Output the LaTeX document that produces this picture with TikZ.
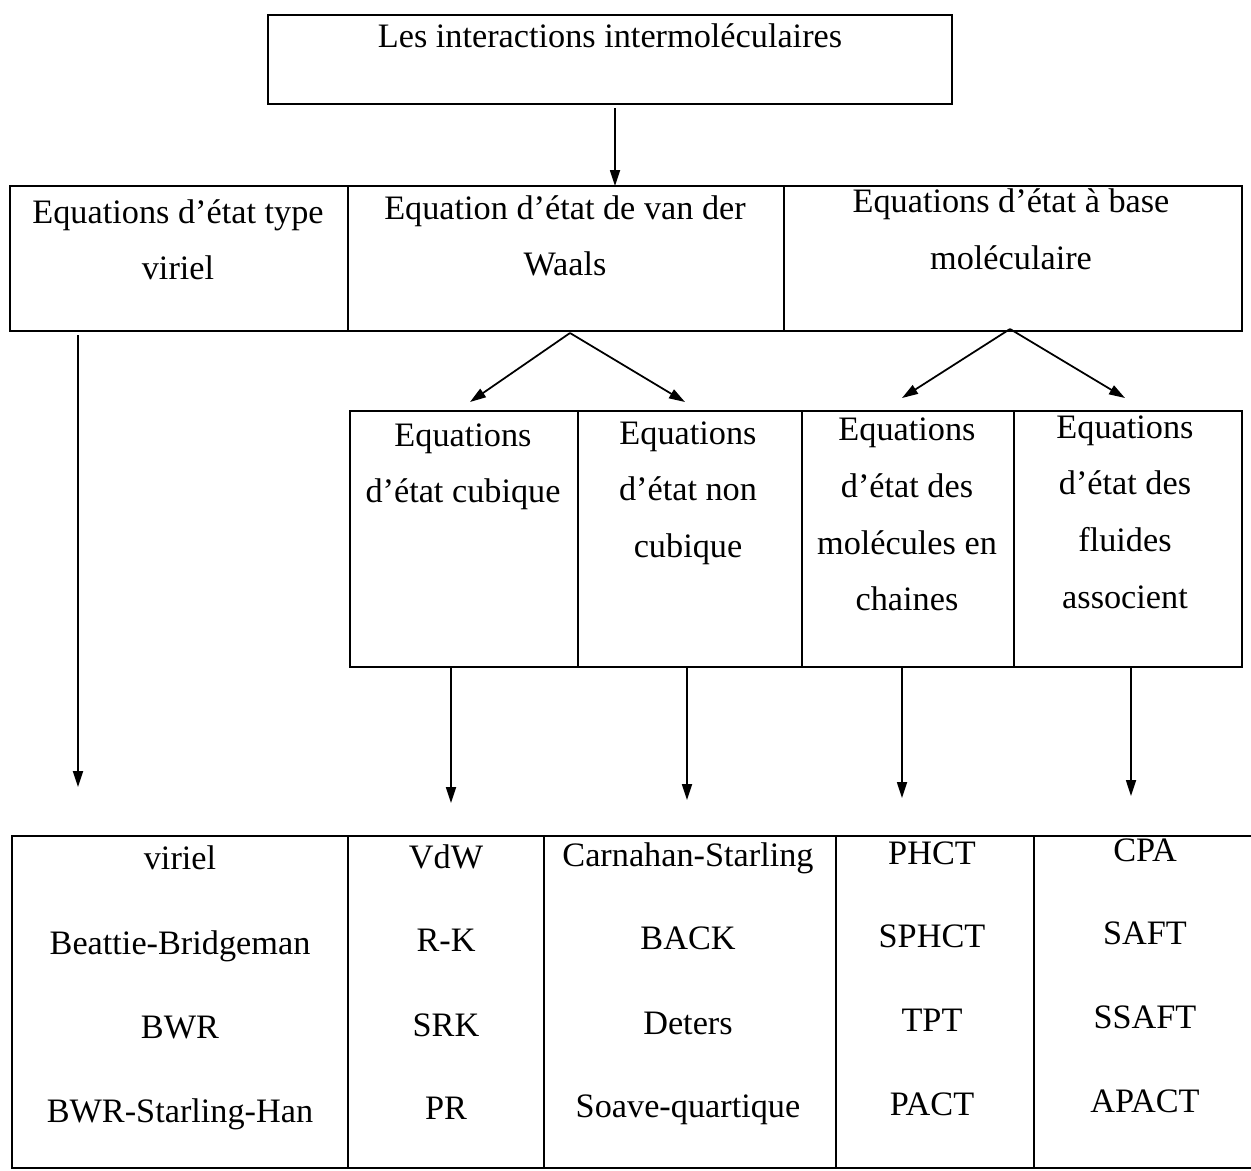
\documentclass[tikz,border=0pt]{standalone}
\usepackage{fontspec}
\setmainfont{Liberation Serif}
\usetikzlibrary{arrows.meta,calc}
\newcommand\cellbox[5]{\node[cellst, minimum width={(#4-#2)*0.02cm}, minimum height={(#5-#3)*0.02cm}] (#1) at ({(#2+#4)/2},{(#3+#5)/2}) {};}
\begin{document}
\begin{tikzpicture}[x=0.02cm,y=-0.02cm,
  cellst/.style={draw, line width=1.1pt, rectangle, inner sep=0pt, outer sep=0pt},
  txt/.style={anchor=base, inner sep=0pt, font=\fontsize{19.5}{23}\selectfont},
  arr/.style={line width=1pt, -{Triangle[length=0.32cm,width=0.2cm]}}]
\useasboundingbox (0,0) rectangle (1251,1170);
\begin{scope}
\clip (0,0) rectangle (1251,1170);
% cells
\cellbox{top}{268}{15}{952}{104}
\cellbox{r2a}{10}{186}{348}{331}
\cellbox{r2b}{348}{186}{784}{331}
\cellbox{r2c}{784}{186}{1242}{331}
\cellbox{r3a}{350}{411}{578}{667}
\cellbox{r3b}{578}{411}{802}{667}
\cellbox{r3c}{802}{411}{1014}{667}
\cellbox{r3d}{1014}{411}{1242}{667}
\cellbox{b1}{12}{836}{348}{1168}
\cellbox{b2}{348}{836}{544}{1168}
\cellbox{b3}{544}{836}{836}{1168}
\cellbox{b4}{836}{836}{1034}{1168}
\cellbox{b5}{1034}{836}{1270}{1168}
% texts
\node[txt] (t0) at (610,47) {Les interactions intermoléculaires};
\node[txt] (t1a) at (178,223) {Equations d’état type};
\node[txt] (t1b) at (178,279) {viriel};
\node[txt] (t2a) at (565,219) {Equation d’état de van der};
\node[txt] (t2b) at (565,275) {Waals};
\node[txt] (t3a) at (1011,212) {Equations d’état à base};
\node[txt] (t3b) at (1011,269) {moléculaire};
\node[txt] (s1a) at (463,446) {Equations};
\node[txt] (s1b) at (463,502) {d’état cubique};
\node[txt] (s2a) at (688,444) {Equations};
\node[txt] (s2b) at (688,500) {d’état non};
\node[txt] (s2c) at (688,557) {cubique};
\node[txt] (s3a) at (907,440) {Equations};
\node[txt] (s3b) at (907,497) {d’état des};
\node[txt] (s3c) at (907,554) {molécules en};
\node[txt] (s3d) at (907,610) {chaines};
\node[txt] (s4a) at (1125,438) {Equations};
\node[txt] (s4b) at (1125,494) {d’état des};
\node[txt] (s4c) at (1125,551) {fluides};
\node[txt] (s4d) at (1125,608) {associent};
\node[txt] (m11) at (180,869) {viriel};
\node[txt] (m12) at (180,954) {Beattie-Bridgeman};
\node[txt] (m13) at (180,1038) {BWR};
\node[txt] (m14) at (180,1122) {BWR-Starling-Han};
\node[txt] (m21) at (446,868) {VdW};
\node[txt] (m22) at (446,951) {R-K};
\node[txt] (m23) at (446,1036) {SRK};
\node[txt] (m24) at (446,1119) {PR};
\node[txt] (m31) at (688,866) {Carnahan-Starling};
\node[txt] (m32) at (688,949) {BACK};
\node[txt] (m33) at (688,1034) {Deters};
\node[txt] (m34) at (688,1117) {Soave-quartique};
\node[txt] (m41) at (932,864) {PHCT};
\node[txt] (m42) at (932,947) {SPHCT};
\node[txt] (m43) at (932,1031) {TPT};
\node[txt] (m44) at (932,1115) {PACT};
\node[txt] (m51) at (1145,861) {CPA};
\node[txt] (m52) at (1145,944) {SAFT};
\node[txt] (m53) at (1145,1028) {SSAFT};
\node[txt] (m54) at (1145,1112) {APACT};
% connector ends
\coordinate (ta) at ($(top.south)+(5,4)$);
\coordinate (eL) at (78,787);
\coordinate (e1) at (451,803);
\coordinate (e2) at (687,800);
\coordinate (e3) at (902,798);
\coordinate (e4) at (1131,796);
% connectors
\draw[arr] (ta) -- (ta |- r2b.north);
\draw[arr] ($(r2b.south)+(4,2)$) -- ($(r3a.north)+(6,-9)$);
\draw[arr] ($(r2b.south)+(4,2)$) -- ($(r3b.north)+(-5,-9)$);
\draw[arr] ($(r2c.south)+(-3,-2)$) -- ($(r3c.north)+(-6,-13)$);
\draw[arr] ($(r2c.south)+(-3,-2)$) -- ($(r3d.north)+(-3,-13)$);
\draw[arr] ($(r2a.south)+(-101,4)$) -- (eL);
\draw[arr] ($(r3a.south)+(-13,1)$) -- (e1);
\draw[arr] ($(r3b.south)+(-3,0)$) -- (e2);
\draw[arr] ($(r3c.south)+(-6,0)$) -- (e3);
\draw[arr] ($(r3d.south)+(3,0)$) -- (e4);
\end{scope}
\end{tikzpicture}
\end{document}
